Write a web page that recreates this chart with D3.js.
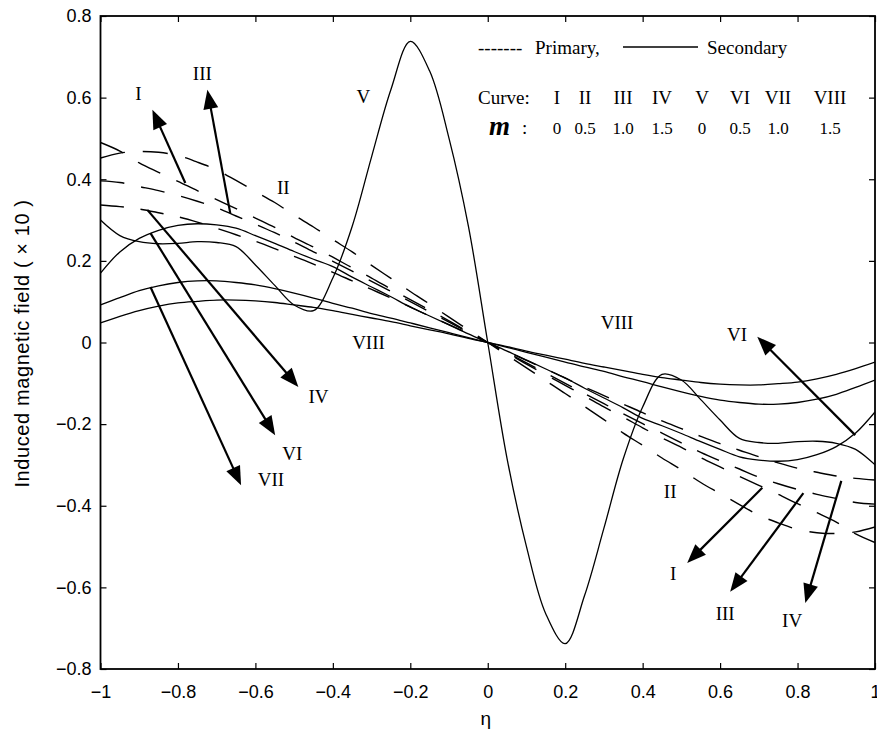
<!DOCTYPE html>
<html>
<head>
<meta charset="utf-8">
<script src="https://cdn.jsdelivr.net/npm/d3@7"></script>
<style>
  body { margin: 0; background: #fff; }
  svg { display: block; }
</style>
</head>
<body>
<svg id="chart" width="877" height="734"></svg>
<script>
// Dimensionless channel coordinate
const eta = [-1, -0.95, -0.9, -0.85, -0.8, -0.75, -0.7, -0.65, -0.6, -0.55, -0.5, -0.45, -0.4, -0.35, -0.3, -0.25, -0.2, -0.15, -0.1, -0.05, 0,
             0.05, 0.1, 0.15, 0.2, 0.25, 0.3, 0.35, 0.4, 0.45, 0.5, 0.55, 0.6, 0.65, 0.7, 0.75, 0.8, 0.85, 0.9, 0.95, 1];

// Primary induced magnetic field (x10), curves I-IV
const primaryI = [0.490, 0.469, 0.440, 0.417, 0.395, 0.372, 0.350, 0.328, 0.305, 0.282, 0.257, 0.234, 0.209, 0.183, 0.158, 0.131, 0.105, 0.079, 0.053, 0.026, 0,
                  -0.026, -0.053, -0.079, -0.105, -0.131, -0.158, -0.183, -0.209, -0.234, -0.257, -0.282, -0.305, -0.328, -0.350, -0.372, -0.395, -0.417, -0.440, -0.469, -0.490];
const primaryII = [0.452, 0.464, 0.468, 0.466, 0.458, 0.442, 0.423, 0.397, 0.370, 0.343, 0.312, 0.283, 0.252, 0.222, 0.189, 0.157, 0.125, 0.094, 0.062, 0.031, 0,
                   -0.031, -0.062, -0.094, -0.125, -0.157, -0.189, -0.222, -0.252, -0.283, -0.312, -0.343, -0.370, -0.397, -0.423, -0.442, -0.458, -0.466, -0.468, -0.464, -0.452];
const primaryIII = [0.396, 0.392, 0.382, 0.372, 0.360, 0.346, 0.330, 0.310, 0.290, 0.269, 0.246, 0.222, 0.199, 0.175, 0.150, 0.125, 0.100, 0.075, 0.050, 0.025, 0,
                    -0.025, -0.050, -0.075, -0.100, -0.125, -0.150, -0.175, -0.199, -0.222, -0.246, -0.269, -0.290, -0.310, -0.330, -0.346, -0.360, -0.372, -0.382, -0.392, -0.396];
const primaryIV = [0.337, 0.333, 0.327, 0.318, 0.308, 0.295, 0.280, 0.264, 0.248, 0.230, 0.211, 0.192, 0.172, 0.151, 0.130, 0.109, 0.087, 0.065, 0.044, 0.022, 0,
                   -0.022, -0.044, -0.065, -0.087, -0.109, -0.130, -0.151, -0.172, -0.192, -0.211, -0.230, -0.248, -0.264, -0.280, -0.295, -0.308, -0.318, -0.327, -0.333, -0.337];

// Secondary induced magnetic field (x10), curves V-VIII
const secondaryV = [0.300, 0.262, 0.247, 0.242, 0.243, 0.247, 0.245, 0.235, 0.190, 0.140, 0.092, 0.078, 0.158, 0.285, 0.455, 0.620, 0.738, 0.665, 0.500, 0.285, 0,
                    -0.285, -0.500, -0.665, -0.738, -0.620, -0.455, -0.285, -0.158, -0.078, -0.092, -0.140, -0.190, -0.235, -0.245, -0.247, -0.243, -0.242, -0.247, -0.262, -0.300];
const secondaryVI = [0.170, 0.222, 0.255, 0.275, 0.287, 0.291, 0.288, 0.280, 0.262, 0.243, 0.223, 0.204, 0.186, 0.160, 0.136, 0.112, 0.087, 0.065, 0.043, 0.021, 0,
                     -0.021, -0.043, -0.065, -0.087, -0.112, -0.136, -0.160, -0.186, -0.204, -0.223, -0.243, -0.262, -0.280, -0.288, -0.291, -0.287, -0.275, -0.255, -0.222, -0.170];
const secondaryVII = [0.092, 0.110, 0.127, 0.139, 0.147, 0.151, 0.151, 0.147, 0.141, 0.132, 0.121, 0.109, 0.096, 0.084, 0.071, 0.060, 0.048, 0.036, 0.024, 0.012, 0,
                      -0.012, -0.024, -0.036, -0.048, -0.060, -0.071, -0.084, -0.096, -0.109, -0.121, -0.132, -0.141, -0.147, -0.151, -0.151, -0.147, -0.139, -0.127, -0.110, -0.092];
const secondaryVIII = [0.048, 0.064, 0.078, 0.089, 0.097, 0.101, 0.104, 0.104, 0.102, 0.098, 0.092, 0.086, 0.078, 0.069, 0.060, 0.051, 0.041, 0.031, 0.021, 0.010, 0,
                       -0.010, -0.021, -0.031, -0.041, -0.051, -0.060, -0.069, -0.078, -0.086, -0.092, -0.098, -0.102, -0.104, -0.104, -0.101, -0.097, -0.089, -0.078, -0.064, -0.048];

// Tick values
const xTicks = [-1, -0.8, -0.6, -0.4, -0.2, 0, 0.2, 0.4, 0.6, 0.8, 1];
const yTicks = [-0.8, -0.6, -0.4, -0.2, 0, 0.2, 0.4, 0.6, 0.8];

// Legend table
const curveNames = ["I", "II", "III", "IV", "V", "VI", "VII", "VIII"];
const hallValues = ["0", "0.5", "1.0", "1.5", "0", "0.5", "1.0", "1.5"];

// Curve labels placed in data space: [text, eta, value]
const curveLabels = [
  ["I", -0.902, 0.611], ["III", -0.737, 0.658], ["II", -0.528, 0.379], ["V", -0.321, 0.602],
  ["IV", -0.437, -0.133], ["VI", -0.505, -0.271], ["VII", -0.56, -0.335], ["VIII", -0.308, -0.001],
  ["VIII", 0.334, 0.050], ["VI", 0.644, 0.019], ["II", 0.471, -0.366],
  ["I", 0.479, -0.565], ["III", 0.613, -0.663], ["IV", 0.786, -0.680]
];
// Pointer arrows: [tail eta, tail value, tip eta, tip value]
const pointers = [
  [-0.781, 0.391, -0.866, 0.570],
  [-0.665, 0.317, -0.724, 0.619],
  [-0.879, 0.325, -0.489, -0.109],
  [-0.871, 0.268, -0.549, -0.227],
  [-0.871, 0.136, -0.637, -0.350],
  [0.949, -0.227, 0.696, 0.014],
  [0.709, -0.356, 0.515, -0.540],
  [0.815, -0.369, 0.626, -0.611],
  [0.913, -0.339, 0.820, -0.638]
];

const series = [
  { values: primaryI, dashed: true },
  { values: primaryII, dashed: true },
  { values: primaryIII, dashed: true },
  { values: primaryIV, dashed: true },
  { values: secondaryV, dashed: false },
  { values: secondaryVI, dashed: false },
  { values: secondaryVII, dashed: false },
  { values: secondaryVIII, dashed: false }
];

const svg = d3.select("#chart");
const plotL = 100.5, plotR = 875, plotT = 16, plotB = 669;
const x = d3.scaleLinear().domain([-1, 1]).range([plotL, plotR]);
const y = d3.scaleLinear().domain([-0.8, 0.8]).range([plotB, plotT]);

const sans = "'Liberation Sans', Arial, Helvetica, sans-serif";
const serif = "'Liberation Serif', 'Times New Roman', serif";

svg.append("defs").append("clipPath").attr("id", "plotClip")
  .append("rect").attr("x", plotL).attr("y", plotT).attr("width", plotR - plotL).attr("height", plotB - plotT);

const fmt = v => String(v).replace("-", "\u2212");

// Axes with inward ticks on all four sides
svg.append("g").attr("transform", `translate(0,${plotB})`)
  .call(d3.axisBottom(x).tickValues(xTicks).tickFormat(fmt).tickSize(-6).tickPadding(16));
svg.append("g").attr("transform", `translate(${plotL},0)`)
  .call(d3.axisLeft(y).tickValues(yTicks).tickFormat(fmt).tickSize(-6).tickPadding(9));
svg.append("g").attr("transform", `translate(0,${plotT})`)
  .call(d3.axisTop(x).tickValues(xTicks).tickFormat("").tickSize(-6));
svg.append("g").attr("transform", `translate(${plotR},0)`)
  .call(d3.axisRight(y).tickValues(yTicks).tickFormat("").tickSize(-6));

svg.selectAll(".domain").remove();
svg.selectAll(".tick line").attr("stroke", "#000").attr("stroke-width", 1.2);
svg.selectAll(".tick text").attr("font-family", sans).attr("font-size", 18).attr("fill", "#000");

// Curves
const line = d3.line()
  .x((d, i) => x(eta[i]))
  .y(d => y(d))
  .curve(d3.curveCatmullRom.alpha(0.5));

const plot = svg.append("g").attr("clip-path", "url(#plotClip)");
series.forEach(s => {
  const p = plot.append("path")
    .attr("d", line(s.values))
    .attr("fill", "none")
    .attr("stroke", "#000")
    .attr("stroke-width", s.dashed ? 1.4 : 1.3);
  if (s.dashed) {
    p.attr("pathLength", plotR - plotL).attr("stroke-dasharray", "22 15.7");
  }
});

// Pointer arrows with filled heads
const arrows = svg.append("g");
pointers.forEach(([e0, v0, e1, v1]) => {
  const x0 = x(e0), y0 = y(v0), x1 = x(e1), y1 = y(v1);
  const dx = x1 - x0, dy = y1 - y0, L = Math.hypot(dx, dy);
  const ux = dx / L, uy = dy / L;
  const headLen = 19, headHalf = 7.5;
  const bx = x1 - ux * headLen, by = y1 - uy * headLen;
  arrows.append("line")
    .attr("x1", x0).attr("y1", y0).attr("x2", bx + ux * 2).attr("y2", by + uy * 2)
    .attr("stroke", "#000").attr("stroke-width", 2.2);
  arrows.append("path")
    .attr("d", `M${x1},${y1}L${bx - uy * headHalf},${by + ux * headHalf}L${bx + uy * headHalf},${by - ux * headHalf}Z`)
    .attr("fill", "#000");
});

// Curve labels
svg.append("g").selectAll("text").data(curveLabels).join("text")
  .attr("x", d => x(d[1])).attr("y", d => y(d[2]))
  .attr("text-anchor", "middle").attr("dominant-baseline", "central")
  .attr("font-family", serif).attr("font-size", 19).attr("fill", "#000")
  .text(d => d[0]);

// Legend: line styles
const lg = svg.append("g").attr("font-family", serif).attr("font-size", 19).attr("fill", "#000");
lg.append("text").attr("x", 478).attr("y", 54).text("-------");
lg.append("text").attr("x", 535).attr("y", 54).text("Primary,");
lg.append("line").attr("x1", 623).attr("x2", 698).attr("y1", 47).attr("y2", 47)
  .attr("stroke", "#000").attr("stroke-width", 1.4);
lg.append("text").attr("x", 707).attr("y", 54).text("Secondary");

// Legend: Hall parameter table
const colX = [557, 585, 623, 662, 702, 740, 778, 830];
lg.append("text").attr("x", 478).attr("y", 104).text("Curve:");
lg.selectAll(".cname").data(curveNames).join("text").attr("class", "cname")
  .attr("x", (d, i) => colX[i]).attr("y", 104).attr("text-anchor", "middle").text(d => d);
lg.append("text").attr("x", 489).attr("y", 135).attr("font-size", 27)
  .attr("font-family", serif).attr("font-style", "italic").attr("font-weight", "bold").text("m");
lg.append("text").attr("x", 522).attr("y", 134).text(":");
lg.selectAll(".mval").data(hallValues).join("text").attr("class", "mval")
  .attr("x", (d, i) => colX[i]).attr("y", 134).attr("text-anchor", "middle")
  .attr("font-size", 17).text(d => d);

// Frame
svg.append("rect").attr("x", plotL).attr("y", plotT).attr("width", plotR - plotL).attr("height", plotB - plotT)
  .attr("fill", "none").attr("stroke", "#000").attr("stroke-width", 1.8);

// Axis titles
svg.append("text").attr("x", (plotL + plotR) / 2 - 2).attr("y", 725)
  .attr("text-anchor", "middle").attr("font-family", sans).attr("font-size", 19).text("\u03b7");
svg.append("text").attr("transform", `translate(29,${(plotT + plotB) / 2 + 1}) rotate(-90)`)
  .attr("text-anchor", "middle").attr("font-family", sans).attr("font-size", 20)
  .attr("letter-spacing", 0.6)
  .text("Induced magnetic field ( \u00d7 10 )");
</script>
</body>
</html>
